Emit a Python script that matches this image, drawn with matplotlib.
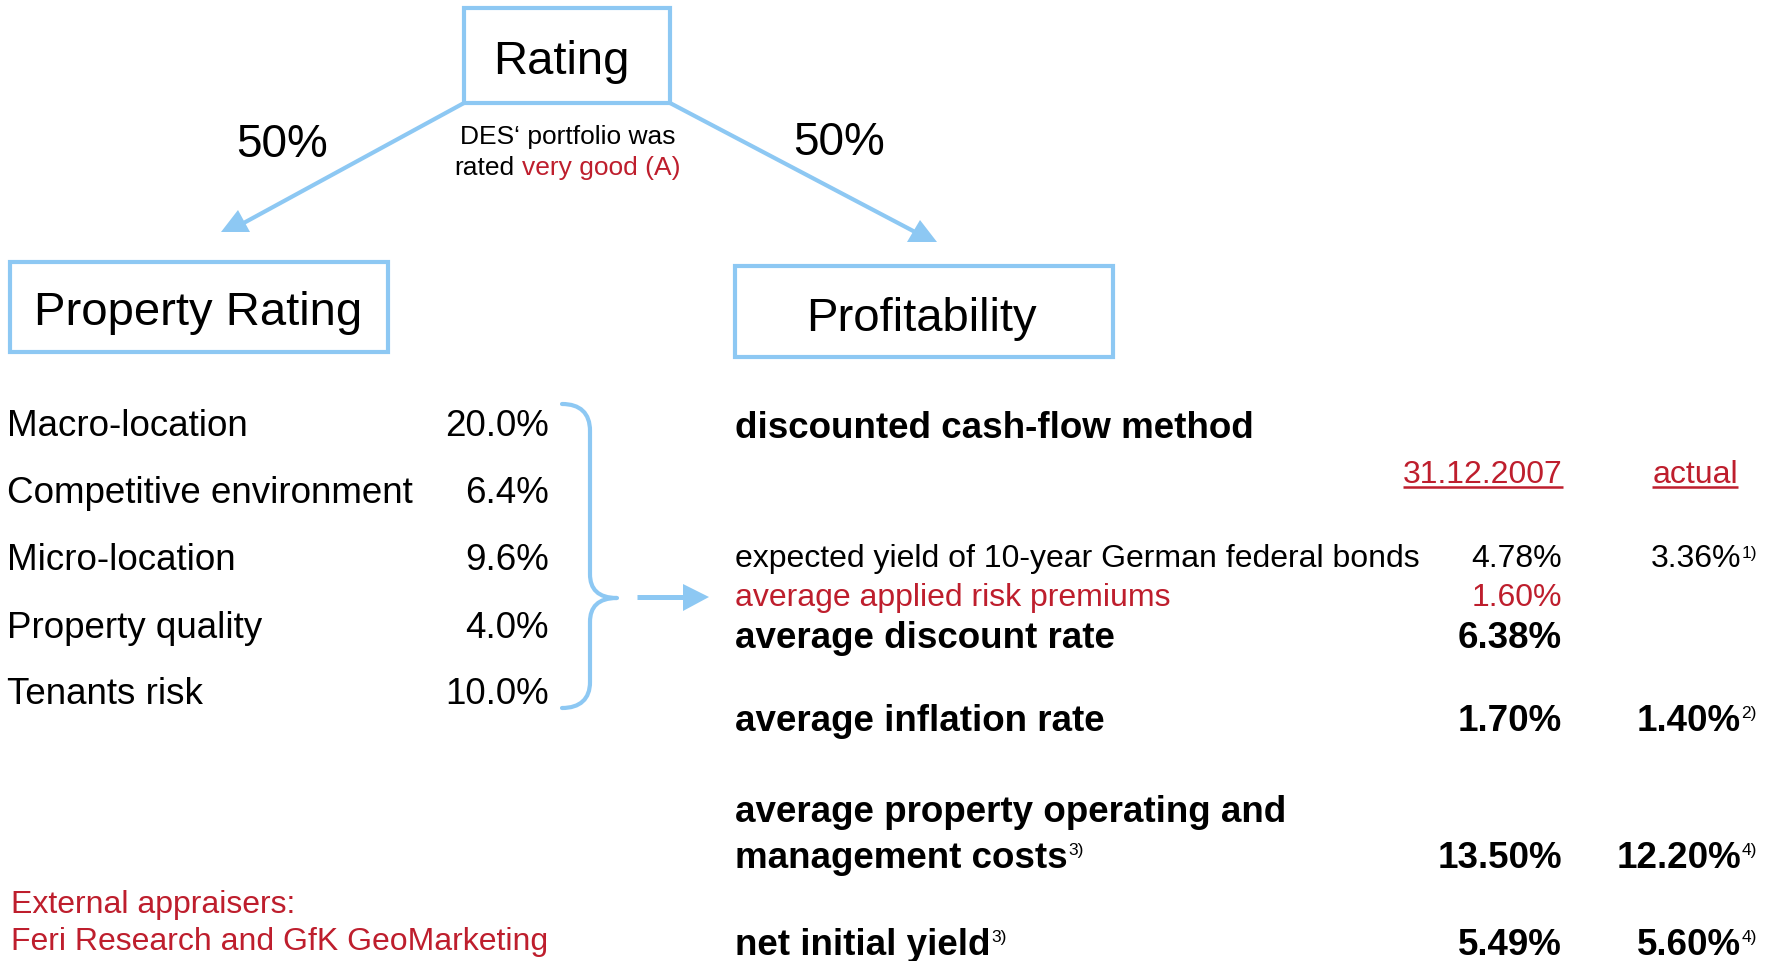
import matplotlib
matplotlib.use("Agg")
import matplotlib.pyplot as plt
from matplotlib.patches import Rectangle, Polygon, PathPatch
from matplotlib.path import Path

plt.rcParams['font.family'] = ['Liberation Sans', 'DejaVu Sans']

# ---------------- data ----------------
rating_title = "Rating"
branch_titles = ["Property Rating", "Profitability"]
branch_weights = [50, 50]
rating_note_line1 = "DES\u2018 portfolio was"
rating_note_line2 = ["rated", "very good (A)"]

property_factors = ["Macro-location", "Competitive environment", "Micro-location",
                    "Property quality", "Tenants risk"]
property_weights = [20.0, 6.4, 9.6, 4.0, 10.0]

dcf_title = "discounted cash-flow method"
column_headers = ["31.12.2007", "actual"]
dcf_labels = ["expected yield of 10-year German federal bonds",
              "average applied risk premiums",
              "average discount rate",
              "average inflation rate",
              "average property operating and\nmanagement costs",
              "net initial yield"]
dcf_label_notes = ["", "", "", "", "3)", "3)"]
dcf_2007 = [4.78, 1.60, 6.38, 1.70, 13.50, 5.49]
dcf_actual = [3.36, None, None, 1.40, 12.20, 5.60]
dcf_actual_notes = ["1)", "", "", "2)", "4)", "4)"]
appraisers = ["External appraisers:", "Feri Research and GfK GeoMarketing"]

# ---------------- style ----------------
BLUE = "#8DC8F3"
RED = "#BE1E2D"
BLACK = "#000000"
W, H = 1775, 962

fig = plt.figure(figsize=(W / 100, H / 100), dpi=100)
ax = fig.add_axes([0, 0, 1, 1])
ax.set_xlim(0, W)
ax.set_ylim(H, 0)
ax.axis('off')
renderer = fig.canvas.get_renderer()


def px(pt):
    return pt * 100 / 72


def right_edge(t):
    bb = t.get_window_extent(renderer=renderer)
    return bb.x1


def width(t):
    bb = t.get_window_extent(renderer=renderer)
    return bb.x1 - bb.x0


def sup(x, baseline, txt, main_size, color=BLACK, sup_size=12.5):
    cap = 0.716 * px(main_size)
    sup_cap = 0.716 * px(sup_size)
    ax.text(x + 0.5, baseline - (cap - sup_cap) + 1, txt, fontsize=sup_size,
            color=color, ha='left', va='baseline')


# ---------------- boxes ----------------
boxes = [(464, 9, 206, 95), (10, 263, 378, 90), (735, 267, 378, 91)]
for (x0, y0, w, h) in boxes:
    ax.add_patch(Rectangle((x0, y0), w, h, fill=False, edgecolor=BLUE, lw=3))

ax.text(561, 74, rating_title, fontsize=34, ha='center', va='baseline')
ax.text(198, 325, branch_titles[0], fontsize=34, ha='center', va='baseline')
ax.text(921, 331, branch_titles[1], fontsize=34, ha='center', va='baseline')

# branch arrows
ax.plot([464, 240], [104, 226], color=BLUE, lw=3, solid_capstyle='butt')
ax.add_patch(Polygon([(221, 233), (250, 233), (238, 211)], closed=True,
                     facecolor=BLUE, edgecolor='none'))
ax.plot([670, 917], [104, 234], color=BLUE, lw=3, solid_capstyle='butt')
ax.add_patch(Polygon([(907, 243), (937, 243), (920, 221)], closed=True,
                     facecolor=BLUE, edgecolor='none'))

ax.text(282, 157, f"{branch_weights[0]}%", fontsize=33, ha='center', va='baseline')
ax.text(839, 155, f"{branch_weights[1]}%", fontsize=33, ha='center', va='baseline')

# rating note
ax.text(567.5, 144, rating_note_line1, fontsize=19, ha='center', va='baseline')
t1 = ax.text(0, 175, rating_note_line2[0], fontsize=19, ha='left', va='baseline')
t2 = ax.text(0, 175, rating_note_line2[1], fontsize=19, ha='left', va='baseline', color=RED)
sp = 0.278 * px(19)
total = width(t1) + sp + width(t2)
start = 567.5 - total / 2
t1.set_x(start)
t2.set_x(start + width(t1) + sp)

# ---------------- property rating list ----------------
list_baselines = [436, 503, 570, 638, 704]
for name, val, yb in zip(property_factors, property_weights, list_baselines):
    ax.text(7, yb, name, fontsize=26.5, ha='left', va='baseline')
    ax.text(549, yb, f"{val:.1f}%", fontsize=26.5, ha='right', va='baseline')

# brace
verts = [(562, 405), (580, 405), (590, 414), (590, 432),
         (590, 575),
         (590, 590), (598, 599), (617, 599),
         (598, 599), (590, 608), (590, 623),
         (590, 683),
         (590, 700), (580, 709), (562, 709)]
codes = [Path.MOVETO, Path.CURVE4, Path.CURVE4, Path.CURVE4,
         Path.LINETO,
         Path.CURVE4, Path.CURVE4, Path.CURVE4,
         Path.CURVE4, Path.CURVE4, Path.CURVE4,
         Path.LINETO,
         Path.CURVE4, Path.CURVE4, Path.CURVE4]
ax.add_patch(PathPatch(Path(verts, codes), fill=False, edgecolor=BLUE, lw=3,
                       capstyle='round', joinstyle='round'))

# small arrow
ax.plot([637, 685], [598, 598], color=BLUE, lw=3.6, solid_capstyle='butt')
ax.add_patch(Polygon([(683, 585), (683, 612), (709, 598)], closed=True,
                     facecolor=BLUE, edgecolor='none'))

# appraisers
ax.text(11, 913, appraisers[0], fontsize=23, color=RED, ha='left', va='baseline')
ax.text(11, 950, appraisers[1], fontsize=23, color=RED, ha='left', va='baseline')

# ---------------- DCF section ----------------
X_LABEL = 735
X_2007 = 1562
X_ACT = 1741
ax.text(X_LABEL, 438, dcf_title, fontsize=26.5, fontweight='bold', ha='left', va='baseline')

h1 = ax.text(1563, 483, column_headers[0], fontsize=23, color=RED, ha='right', va='baseline')
h2 = ax.text(1738, 483, column_headers[1], fontsize=23, color=RED, ha='right', va='baseline')
for h in (h1, h2):
    bb = h.get_window_extent(renderer=renderer)
    ax.plot([bb.x0, bb.x1], [488, 488], color=RED, lw=1.8, solid_capstyle='butt')

row_baselines = [567, 606, 648, 731, 868, 955]
row_weights = ['normal', 'normal', 'bold', 'bold', 'bold', 'bold']
row_colors = [BLACK, RED, BLACK, BLACK, BLACK, BLACK]
row_sizes = [23, 23, 26.5, 26.5, 26.5, 26.5]
LINE_GAP = 46

for i, label in enumerate(dcf_labels):
    yb = row_baselines[i]
    fw, col, fs = row_weights[i], row_colors[i], row_sizes[i]
    lines = label.split("\n")
    last = None
    for k, line in enumerate(lines):
        y_line = yb - (len(lines) - 1 - k) * LINE_GAP
        last = ax.text(X_LABEL, y_line, line, fontsize=fs, fontweight=fw, color=col,
                       ha='left', va='baseline')
    if dcf_label_notes[i]:
        sup(right_edge(last), yb, dcf_label_notes[i], fs, col)
    ax.text(X_2007, yb, f"{dcf_2007[i]:.2f}%", fontsize=fs, fontweight=fw, color=col,
            ha='right', va='baseline')
    if dcf_actual[i] is not None:
        ta = ax.text(X_ACT, yb, f"{dcf_actual[i]:.2f}%", fontsize=fs, fontweight=fw,
                     color=col, ha='right', va='baseline')
        if dcf_actual_notes[i]:
            sup(right_edge(ta), yb, dcf_actual_notes[i], fs, col)

fig.savefig("out.png", dpi=100, facecolor='white')
